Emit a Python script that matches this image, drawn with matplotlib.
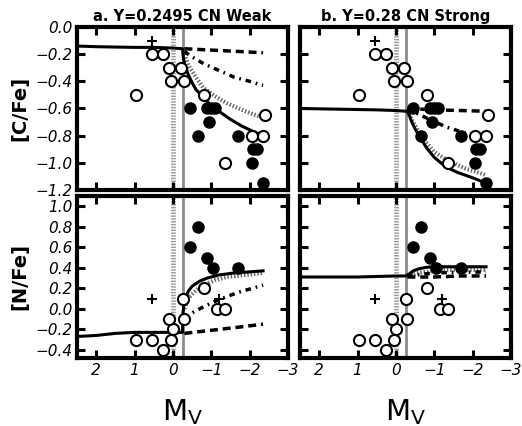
import numpy as np
import matplotlib
matplotlib.use('Agg')
import matplotlib.pyplot as plt

# observed stars, [C/Fe] vs Mv
c_open_x = [0.55, 0.25, 0.1, -0.2, 0.05, -0.3, 0.95, -0.8, -2.4, -2.05, -2.35, -1.35]
c_open_y = [-0.2, -0.2, -0.3, -0.3, -0.4, -0.4, -0.5, -0.5, -0.65, -0.8, -0.8, -1.0]
c_fill_x = [-0.45, -0.9, -1.0, -1.1, -0.95, -0.65, -1.7, -2.1, -2.2, -2.05, -2.35]
c_fill_y = [-0.6, -0.6, -0.6, -0.6, -0.7, -0.8, -0.8, -0.9, -0.9, -1.0, -1.15]
c_plus_x = [0.55]
c_plus_y = [-0.1]

# observed stars, [N/Fe] vs Mv
n_open_x = [0.95, 0.55, 0.05, 0.25, 0.0, 0.1, -0.3, -0.25, -0.8, -1.15, -1.35]
n_open_y = [-0.3, -0.3, -0.3, -0.4, -0.2, -0.1, -0.1, 0.1, 0.2, 0.0, 0.0]
n_fill_x = [-0.65, -0.45, -0.9, -1.05, -1.7]
n_fill_y = [0.8, 0.6, 0.5, 0.4, 0.4]
n_plus_x = [0.55, -1.2]
n_plus_y = [0.1, 0.1]

# models, panel a (Y=0.2495)
a_c_solid_x = [2.5, 2.0, 1.0, 0.5, 0.0, -0.25, -0.27, -0.3, -0.4, -0.5, -0.6, -0.8, -1.0, -1.2, -1.5, -1.8, -2.1, -2.35]
a_c_solid_y = [-0.14, -0.145, -0.15, -0.15, -0.155, -0.16, -0.22, -0.27, -0.35, -0.41, -0.46, -0.52, -0.58, -0.62, -0.68, -0.73, -0.77, -0.80]
a_c_dash_x = [-0.3, -1.0, -1.7, -2.35]
a_c_dash_y = [-0.16, -0.17, -0.18, -0.19]
a_c_dd_x = [-0.3, -0.5, -0.8, -1.2, -1.6, -2.0, -2.35]
a_c_dd_y = [-0.18, -0.22, -0.27, -0.32, -0.37, -0.40, -0.43]
a_c_dot_x = [-0.3, -0.4, -0.6, -0.8, -1.1, -1.4, -1.8, -2.35]
a_c_dot_y = [-0.2, -0.28, -0.37, -0.45, -0.51, -0.56, -0.61, -0.67]

a_n_solid_x = [2.5, 2.0, 1.5, 1.0, 0.5, 0.0, -0.25, -0.26, -0.3, -0.4, -0.5, -0.7, -0.9, -1.2, -1.6, -2.0, -2.35]
a_n_solid_y = [-0.27, -0.26, -0.24, -0.23, -0.23, -0.23, -0.23, -0.05, 0.08, 0.17, 0.22, 0.27, 0.30, 0.33, 0.35, 0.36, 0.37]
a_n_dash_x = [-0.3, -1.0, -1.7, -2.35]
a_n_dash_y = [-0.24, -0.21, -0.18, -0.15]
a_n_dd_x = [-0.3, -0.5, -0.8, -1.2, -1.7, -2.35]
a_n_dd_y = [-0.1, -0.04, 0.02, 0.09, 0.16, 0.23]
a_n_dot_x = [-0.3, -0.4, -0.6, -0.8, -1.1, -1.4, -1.9, -2.35]
a_n_dot_y = [0.0, 0.1, 0.18, 0.23, 0.28, 0.31, 0.33, 0.35]

# models, panel b (Y=0.28)
b_c_solid_x = [2.5, 1.5, 0.5, 0.0, -0.25, -0.3, -0.35, -0.4, -0.5, -0.6, -0.8, -1.0, -1.3, -1.6, -2.0, -2.35]
b_c_solid_y = [-0.6, -0.605, -0.61, -0.615, -0.62, -0.62, -0.65, -0.69, -0.75, -0.80, -0.89, -0.96, -1.03, -1.07, -1.11, -1.15]
b_c_dash_x = [-0.3, -1.0, -1.7, -2.35]
b_c_dash_y = [-0.6, -0.61, -0.615, -0.62]
b_c_dd_x = [-0.3, -0.5, -0.8, -1.3, -1.8, -2.35]
b_c_dd_y = [-0.6, -0.63, -0.67, -0.735, -0.78, -0.82]
b_c_dot_x = [-0.3, -0.45, -0.7, -1.0, -1.33, -1.8, -2.35]
b_c_dot_y = [-0.62, -0.70, -0.82, -0.92, -0.98, -1.04, -1.09]

b_n_solid_x = [2.5, 1.0, 0.0, -0.25, -0.35, -0.45, -0.6, -0.8, -1.0, -1.5, -2.0, -2.35]
b_n_solid_y = [0.31, 0.31, 0.32, 0.32, 0.34, 0.37, 0.39, 0.405, 0.41, 0.41, 0.41, 0.41]
b_n_dash_x = [-0.3, -1.0, -1.7, -2.35]
b_n_dash_y = [0.31, 0.31, 0.32, 0.32]
b_n_dd_x = [-0.3, -1.0, -2.35]
b_n_dd_y = [0.32, 0.35, 0.36]
b_n_dot_x = [-0.3, -0.6, -1.0, -1.5, -2.35]
b_n_dot_y = [0.32, 0.35, 0.37, 0.38, 0.38]

titles = ['a. Y=0.2495 CN Weak', 'b. Y=0.28 CN Strong']

fig = plt.figure(figsize=(5.22, 4.26), dpi=100)
W, H = 522.0, 426.0
lefts = [77 / W, 300 / W]
width = 211 / W
ax_c = [fig.add_axes([l, 1 - 190 / H, width, 163 / H]) for l in lefts]
ax_n = [fig.add_axes([l, 1 - 358 / H, width, 162 / H]) for l in lefts]

models = [
    ((a_c_solid_x, a_c_solid_y), (a_c_dash_x, a_c_dash_y), (a_c_dd_x, a_c_dd_y), (a_c_dot_x, a_c_dot_y),
     (a_n_solid_x, a_n_solid_y), (a_n_dash_x, a_n_dash_y), (a_n_dd_x, a_n_dd_y), (a_n_dot_x, a_n_dot_y)),
    ((b_c_solid_x, b_c_solid_y), (b_c_dash_x, b_c_dash_y), (b_c_dd_x, b_c_dd_y), (b_c_dot_x, b_c_dot_y),
     (b_n_solid_x, b_n_solid_y), (b_n_dash_x, b_n_dash_y), (b_n_dd_x, b_n_dd_y), (b_n_dot_x, b_n_dot_y)),
]


def draw_models(ax, solid, dash, dd, dot):
    ax.plot(*dot, color='0.4', lw=3.0, ls=(0, (0.35, 0.45)), zorder=2)
    ax.plot(*dd, color='black', lw=2.5, ls=(0, (1.6, 1.4, 0.5, 1.4)), zorder=2)
    ax.plot(*dash, color='black', lw=2.5, ls=(0, (2.3, 1.4)), zorder=2)
    ax.plot(*solid, color='black', lw=2.2, zorder=3)


def style(ax):
    for s in ax.spines.values():
        s.set_linewidth(3)
    ax.tick_params(direction='in', top=True, right=True, length=6, width=2.2,
                   labelsize=11)
    for lab in ax.get_xticklabels() + ax.get_yticklabels():
        lab.set_fontstyle('italic')


for i in range(2):
    m = models[i]
    for ax in (ax_c[i], ax_n[i]):
        ax.axvline(0.0, color='0.6', lw=3.4, ls=(0, (0.3, 0.3)), zorder=1)
        ax.axvline(-0.25, color='0.55', lw=2.0, zorder=1)

    ax = ax_c[i]
    draw_models(ax, m[0], m[1], m[2], m[3])
    ax.plot(c_open_x, c_open_y, 'o', mfc='white', mec='black', ms=8, mew=1.5, zorder=4)
    ax.plot(c_fill_x, c_fill_y, 'o', color='black', ms=8, zorder=4)
    ax.plot(c_plus_x, c_plus_y, '+', color='black', ms=7, mew=1.5, zorder=4)
    ax.set_xlim(2.5, -3)
    ax.set_ylim(-1.2, 0.0)
    ax.set_xticks([2, 1, 0, -1, -2, -3])
    ax.set_yticks(np.round(np.arange(-1.2, 0.01, 0.2), 1))
    ax.set_xticklabels([])
    ax.set_title(titles[i], fontsize=10.5, fontweight='bold', pad=4)

    ax = ax_n[i]
    draw_models(ax, m[4], m[5], m[6], m[7])
    ax.plot(n_open_x, n_open_y, 'o', mfc='white', mec='black', ms=8, mew=1.5, zorder=4)
    ax.plot(n_fill_x, n_fill_y, 'o', color='black', ms=8, zorder=4)
    ax.plot(n_plus_x, n_plus_y, '+', color='black', ms=7, mew=1.5, zorder=4)
    ax.set_xlim(2.5, -3)
    ax.set_ylim(-0.48, 1.1)
    ax.set_xticks([2, 1, 0, -1, -2, -3])
    ax.set_yticks(np.round(np.arange(-0.4, 1.01, 0.2), 1))
    ax.set_xlabel('M$_\\mathrm{V}$', fontsize=21, labelpad=14)

    if i == 1:
        ax_c[i].set_yticklabels([])
        ax_n[i].set_yticklabels([])

for ax in ax_c + ax_n:
    style(ax)

ax_c[0].set_ylabel('[C/Fe]', fontsize=14, fontweight='bold', labelpad=4)
ax_n[0].set_ylabel('[N/Fe]', fontsize=14, fontweight='bold', labelpad=4)

fig.savefig('out.png', dpi=100)
